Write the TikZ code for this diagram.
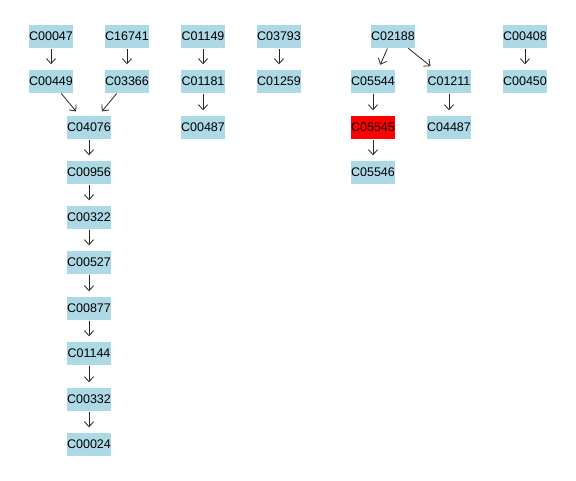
\documentclass[tikz,border=0pt]{standalone}
\usepackage{fontspec}
\setmainfont{Liberation Sans}
\usetikzlibrary{arrows.meta}
\definecolor{boxblue}{RGB}{173,216,230}
\tikzset{
  cbox/.style={fill=boxblue, minimum width=44pt, minimum height=23pt, inner sep=0pt, font=\fontsize{12.5}{14}\selectfont},
  redbox/.style={cbox, fill=red},
  link/.style={draw=black!85, line width=0.8pt, -{Straight Barb[length=5pt,width=9pt]}, shorten >=5pt, shorten <=1pt}
}
\begin{document}
\begin{tikzpicture}[x=1pt,y=-1pt]
\useasboundingbox (0,0) rectangle (576,480);
\node[cbox] (a1) at (51,36) {C00047};
\node[cbox] (a2) at (127,36) {C16741};
\node[cbox] (a3) at (203,36) {C01149};
\node[cbox] (a4) at (279,36) {C03793};
\node[cbox] (a5) at (393,36) {C02188};
\node[cbox] (a6) at (525,36) {C00408};
\node[cbox] (b1) at (51,81) {C00449};
\node[cbox] (b2) at (127,81) {C03366};
\node[cbox] (b3) at (203,81) {C01181};
\node[cbox] (b4) at (279,81) {C01259};
\node[cbox] (b5) at (373,81) {C05544};
\node[cbox] (b6) at (449,81) {C01211};
\node[cbox] (b7) at (525,81) {C00450};
\node[cbox] (c1) at (89,127) {C04076};
\node[cbox] (c2) at (203,127) {C00487};
\node[redbox] (c3) at (373,127) {C05545};
\node[cbox] (c4) at (449,127) {C04487};
\node[cbox] (d1) at (89,172) {C00956};
\node[cbox] (d2) at (373,172) {C05546};
\node[cbox] (e1) at (89,217) {C00322};
\node[cbox] (f1) at (89,262) {C00527};
\node[cbox] (g1) at (89,308) {C00877};
\node[cbox] (h1) at (89,353) {C01144};
\node[cbox] (i1) at (89,399) {C00332};
\node[cbox] (j1) at (89,444) {C00024};
\draw[link] (a1) -- (b1);
\draw[link] (a2) -- (b2);
\draw[link] (a3) -- (b3);
\draw[link] (a4) -- (b4);
\draw[link] (a5) -- (b5);
\draw[link] (a5) -- (b6);
\draw[link] (a6) -- (b7);
\draw[link] (b1) -- (c1);
\draw[link] (b2) -- (c1);
\draw[link] (b3) -- (c2);
\draw[link] (b5) -- (c3);
\draw[link] (b6) -- (c4);
\draw[link] (c1) -- (d1);
\draw[link] (c3) -- (d2);
\draw[link] (d1) -- (e1);
\draw[link] (e1) -- (f1);
\draw[link] (f1) -- (g1);
\draw[link] (g1) -- (h1);
\draw[link] (h1) -- (i1);
\draw[link] (i1) -- (j1);
\end{tikzpicture}
\end{document}
